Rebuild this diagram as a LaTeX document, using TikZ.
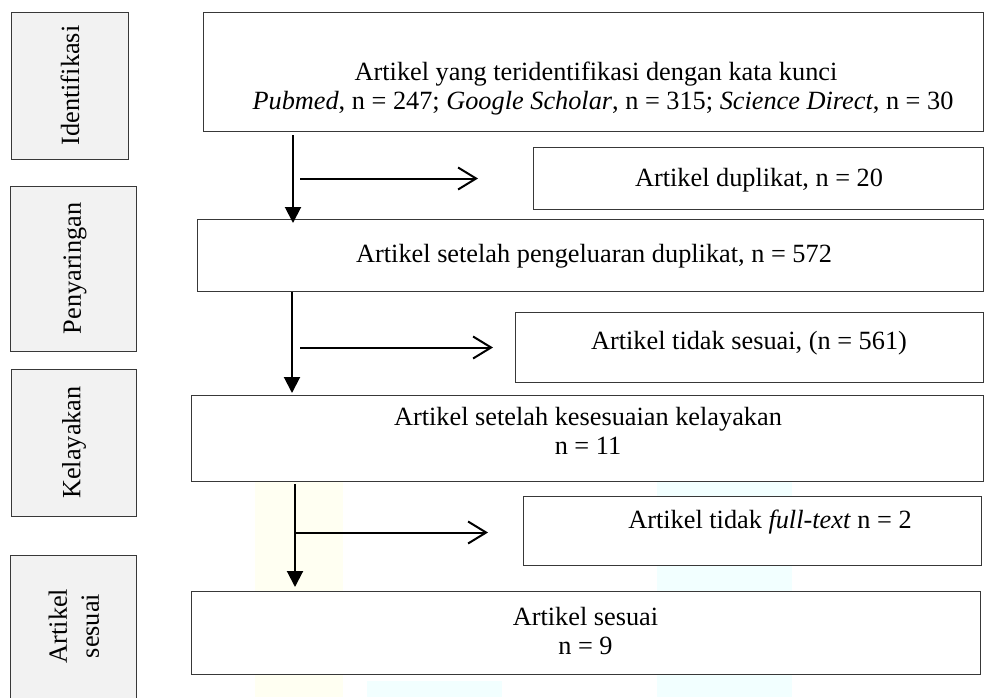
\documentclass[tikz,border=0pt]{standalone}
\usepackage{fontspec}
\setmainfont{Liberation Serif}
\usetikzlibrary{arrows.meta,calc}
\definecolor{sidefill}{HTML}{F2F2F2}
\definecolor{edge}{HTML}{383838}
\definecolor{wmyellow}{HTML}{FFFFF2}
\definecolor{wmcyan}{HTML}{F2FFFF}
\begin{document}
\begin{tikzpicture}[x=1pt,y=-1pt,
  every node/.style={font=\fontsize{26.3}{29}\selectfont},
  sidebox/.style={draw=edge, line width=1pt, fill=sidefill, inner sep=0pt, anchor=north west},
  mainbox/.style={draw=edge, line width=1pt, fill=white, inner sep=0pt, anchor=north west},
  sidetext/.style={rotate=90, align=center, inner sep=0pt},
  boxtext/.style={align=center, inner sep=0pt},
  vline/.style={line width=2pt, black, -{Triangle[length=16pt,width=16pt]}},
  hline/.style={line width=2pt, black, -{Straight Barb[length=18pt,width=22pt]}}
]
\useasboundingbox (0,0) rectangle (985,697);
% faint watermark stripes
\fill[wmyellow] (255,482) rectangle (343,697);
\fill[wmcyan] (657,482) rectangle (792,697);
\fill[wmcyan] (367,681) rectangle (502,697);

% side boxes
\node[sidebox, minimum width=117pt, minimum height=147pt] (s1) at (11,12) {};
\node[sidebox, minimum width=126pt, minimum height=165pt] (s2) at (10,186) {};
\node[sidebox, minimum width=125pt, minimum height=147pt] (s3) at (11,369) {};
\node[sidebox, minimum width=126pt, minimum height=145pt] (s4) at (10,555) {};
\node[sidetext] (s1t) at (70,85.5) {Identifikasi};
\node[sidetext] (s2t) at (75,268.5) {Penyaringan};
\node[sidetext] (s3t) at (74,442.5) {Kelayakan};
\node[sidetext, font=\fontsize{26.3}{32}\selectfont] (s4t) at (74,626) {Artikel\\sesuai};

% main boxes
\node[mainbox, minimum width=780pt, minimum height=119pt] (b1) at (203,12) {};
\node[mainbox, minimum width=450pt, minimum height=62pt] (dup) at (533,147) {};
\node[mainbox, minimum width=786pt, minimum height=72pt] (b2) at (197,219) {};
\node[mainbox, minimum width=468pt, minimum height=70pt] (tdk) at (515,312) {};
\node[mainbox, minimum width=792pt, minimum height=86pt] (b3) at (191,395) {};
\node[mainbox, minimum width=458pt, minimum height=69pt] (ft) at (523,496) {};
\node[mainbox, minimum width=789pt, minimum height=83pt] (b4) at (191,591) {};

% texts
\node[boxtext] (t1) at (596,89) {Artikel yang teridentifikasi dengan kata kunci\\\hspace*{14pt}\textit{Pubmed}, n = 247; \textit{Google Scholar}, n = 315; \textit{Science Direct}, n = 30};
\node[boxtext] (t2) at (759,180) {Artikel duplikat, n = 20};
\node[boxtext] (t3) at (594,256) {Artikel setelah pengeluaran duplikat, n = 572};
\node[boxtext] (t4) at (749,343) {Artikel tidak sesuai, (n = 561)};
\node[boxtext] (t5) at (588,431) {Artikel setelah kesesuaian kelayakan\\n = 11};
\node[boxtext] (t6) at (770,522) {Artikel tidak \textit{full-text} n = 2};
\node[boxtext] (t7) at (585.5,631) {Artikel sesuai\\n = 9};

% connectors
\coordinate (a1) at (293,0);
\coordinate (a2) at (292,0);
\coordinate (a3) at (295,0);
\draw[vline] ($(b1.south -| a1)+(0,3)$) -- ($(b2.north -| a1)+(0,4)$);
\coordinate (h1e) at ($(dup.west)+(-55,0)$);
\coordinate (h1s) at (a1 |- h1e);
\draw[hline] ($(h1s)+(7,0)$) -- (h1e);

\draw[vline] (b2.south -| a2) -- ($(b3.north -| a2)+(0,-2)$);
\coordinate (h2e) at ($(tdk.west)+(-22,0)$);
\coordinate (h2s) at (a2 |- h2e);
\draw[hline] ($(h2s)+(8,0)$) -- (h2e);

\draw[vline] ($(b3.south -| a3)+(0,2)$) -- ($(b4.north -| a3)+(0,-4)$);
\coordinate (h3e) at ($(ft.west)+(-35,1.5)$);
\coordinate (h3s) at (a3 |- h3e);
\draw[hline] ($(h3s)+(-1,0)$) -- (h3e);
\end{tikzpicture}
\end{document}
